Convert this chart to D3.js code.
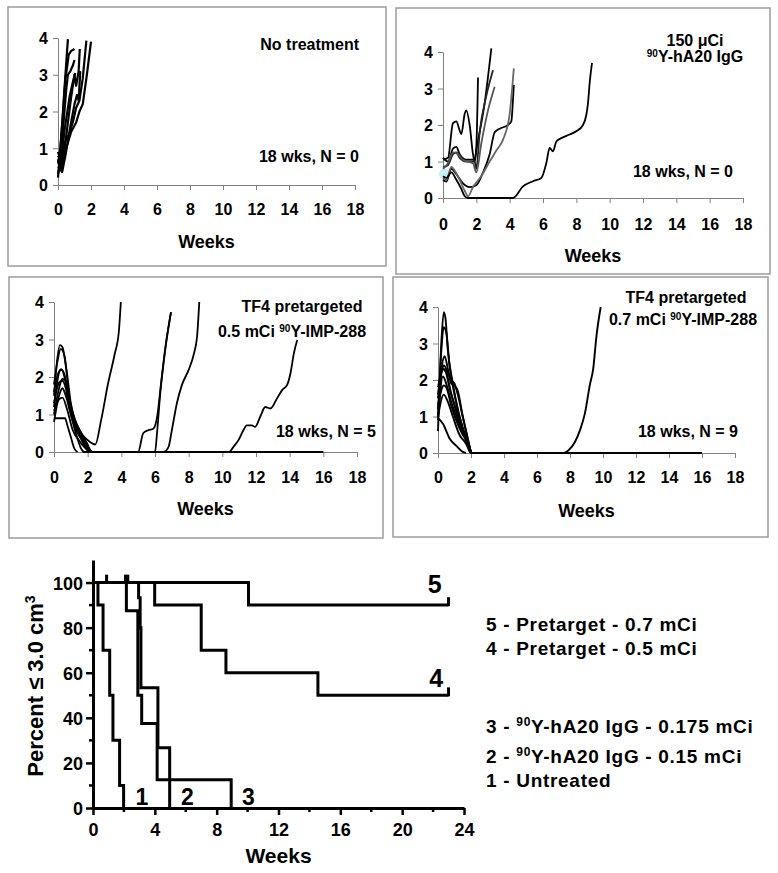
<!DOCTYPE html>
<html><head><meta charset="utf-8">
<script src="https://cdn.jsdelivr.net/npm/d3@7"></script>
<style>
body{margin:0;background:#fff}
svg{display:block}
text{font-family:"Liberation Sans",Arial,Helvetica,sans-serif;font-weight:bold;fill:#000}
</style>
</head><body>
<svg id="c" width="778" height="873"></svg>
<script>
// ---------- DATA ----------
const weekTicks = [0,2,4,6,8,10,12,14,16,18];
const volTicks = [0,1,2,3,4];

// Panel 1: No treatment — tumour volume (cm3) vs weeks
const noTreatment = [
  [[0,0.2],[0.15,1.0],[0.3,2.0],[0.45,3.0],[0.6,3.97]],
  [[0,0.6],[0.12,0.9],[0.3,1.9],[0.45,2.9],[0.55,3.2],[0.65,3.55],[0.8,3.65],[1.0,3.7]],
  [[0,0.8],[0.15,0.7],[0.3,1.5],[0.5,2.6],[0.6,3.0],[0.75,3.1],[0.9,3.25],[1.0,3.4]],
  [[0,0.7],[0.2,0.45],[0.35,0.8],[0.6,1.7],[0.8,2.4],[1.0,3.0],[1.1,2.7],[1.25,3.1],[1.32,3.7]],
  [[0,0.5],[0.25,0.35],[0.45,0.8],[0.75,1.6],[1.0,2.2],[1.15,2.45],[1.25,2.3],[1.35,3.1]],
  [[0,0.9],[0.2,0.6],[0.45,1.2],[0.7,1.4],[0.95,1.8],[1.1,2.1],[1.3,2.3],[1.5,2.9],[1.72,3.93]],
  [[0,0.6],[0.25,0.45],[0.5,1.0],[0.8,1.45],[1.1,1.7],[1.3,2.0],[1.5,2.2],[1.75,3.0],[2.0,3.9]],
  [[0,0.3],[0.2,0.7],[0.4,1.5],[0.7,2.4],[0.9,2.8],[1.05,3.05]]
];

// Panel 2: 150 uCi 90Y-hA20 IgG
const hA20 = [
  [[0,1.05],[0.3,1.1],[0.6,2.05],[0.8,2.1],[1.0,1.85],[1.1,1.75],[1.3,2.3],[1.4,2.4],[1.6,2.0],[1.8,1.2],[1.9,1.0],[2.0,1.3],[2.5,2.6],[2.9,4.1]],
  [[0,1.1],[0.3,1.0],[0.6,1.35],[0.8,1.4],[1.0,1.2],[1.4,1.05],[1.9,1.05],[2.0,1.4],[2.1,3.3]],
  [[0,0.85],[0.3,0.9],[0.6,1.2],[0.8,1.25],[1.0,1.1],[1.4,1.0],[1.9,1.0],[2.0,0.8],[2.2,1.8],[2.6,2.8],[3.0,3.5]],
  [[0,0.8],[0.3,0.95],[0.6,1.25],[0.9,1.2],[1.2,1.05],[1.8,0.95],[2.0,0.7],[2.3,1.5],[2.7,2.4],[3.1,3.05]],
  [[0,0.5],[0.2,0.45],[0.5,0.8],[0.8,0.65],[1.2,0.4],[1.6,0.3],[2.0,0.35],[2.4,0.7],[2.8,1.2],[3.1,1.8],[3.4,1.9],[3.9,2.0],[4.1,2.1],[4.2,2.7],[4.25,3.1]],
  [[0,0.55],[0.2,0.5],[0.5,0.85],[0.7,0.75],[1.0,0.5],[1.3,0.2],[1.5,0.05],[1.8,0.3],[2.3,0.6],[2.8,1.0],[3.2,1.3],[3.6,1.6],[4.0,2.3],[4.15,3.0],[4.25,3.55]],
  [[0,0.6],[0.2,0.55],[0.5,0.7],[0.8,0.5],[1.1,0.25],[1.3,0.05],[1.5,0],[4.2,0],[4.8,0.32],[5.4,0.46],[5.9,0.55],[6.2,0.96],[6.4,1.37],[6.6,1.28],[6.8,1.55],[7.1,1.64],[7.6,1.74],[8.0,1.83],[8.4,2.0],[8.6,2.28],[8.7,2.6],[8.8,3.15],[8.94,3.7]]
];
const hA20Stroke = ['#000','#000','#222','#555','#000','#666','#000'];

// Panel 3: TF4 pretargeted 0.5 mCi 90Y-IMP-288
const pre05 = [
  [[0,1.5],[0.2,2.5],[0.35,2.85],[0.5,2.8],[0.7,2.3],[0.9,1.5],[1.2,0.9],[1.6,0.5],[2.0,0.2],[2.2,0],[16,0]],
  [[0,1.8],[0.2,2.4],[0.4,2.75],[0.6,2.6],[0.8,2.0],[1.0,1.3],[1.3,0.8],[1.7,0.45],[2.1,0.28],[2.45,0.2],[2.8,0.85],[3.2,1.8],[3.6,2.6],[3.85,3.2],[3.97,4.0]],
  [[0,1.2],[0.2,1.9],[0.4,2.2],[0.6,2.1],[0.8,1.6],[1.1,1.0],[1.5,0.6],[1.9,0.25],[2.1,0],[5.0,0],[5.3,0.5],[5.6,0.58],[5.9,0.62],[6.15,1.0],[6.35,1.8],[6.65,2.9],[6.95,3.73]],
  [[0,1.0],[0.3,1.7],[0.5,1.95],[0.7,1.9],[0.9,1.4],[1.2,0.8],[1.6,0.4],[2.0,0.1],[2.2,0],[6.0,0],[6.12,0.5],[6.3,1.5],[6.6,2.7],[6.95,3.73]],
  [[0,1.3],[0.3,1.85],[0.5,1.9],[0.7,1.7],[0.9,1.2],[1.2,0.7],[1.6,0.35],[1.9,0.1],[2.1,0],[6.5,0],[6.8,0.13],[7.0,0.58],[7.3,1.3],[7.6,1.79],[8.0,2.19],[8.3,2.6],[8.5,3.08],[8.63,4.0]],
  [[0,0.8],[0.3,1.5],[0.5,1.7],[0.7,1.5],[1.0,1.0],[1.3,0.5],[1.6,0.1],[1.8,0],[10.4,0],[10.65,0.13],[10.95,0.31],[11.25,0.58],[11.45,0.71],[11.75,0.71],[11.95,0.67],[12.25,0.94],[12.55,1.2],[12.85,1.16],[13.25,1.43],[13.55,1.65],[13.85,1.79],[14.05,2.1],[14.25,2.63],[14.45,2.99]],
  [[0,0.9],[0.65,0.9],[0.8,0.7],[1.0,0.4],[1.2,0.1],[1.4,0]],
  [[0,1.1],[0.3,1.4],[0.5,1.45],[0.8,1.1],[1.1,0.6],[1.5,0.3],[2.0,0.05],[2.3,0]],
  [[0,1.6],[0.25,2.1],[0.45,2.2],[0.65,1.95],[0.9,1.3],[1.2,0.8],[1.6,0.45],[2.0,0.15],[2.25,0]]
];

// Panel 4: TF4 pretargeted 0.7 mCi 90Y-IMP-288
const pre07 = [
  [[0,0.6],[0.2,3.0],[0.35,3.86],[0.45,3.7],[0.6,2.8],[0.9,1.9],[1.2,1.2],[1.5,0.7],[1.8,0.3],[2.0,0],[16,0]],
  [[0,1.0],[0.2,2.8],[0.35,3.45],[0.5,3.3],[0.7,2.4],[1.0,1.6],[1.3,1.0],[1.6,0.5],[1.9,0.15],[2.0,0]],
  [[0,1.5],[0.2,2.3],[0.4,2.65],[0.6,2.3],[0.8,1.9],[1.0,1.85],[1.2,1.7],[1.5,1.0],[1.8,0.4],[2.0,0]],
  [[0,1.8],[0.2,2.2],[0.35,2.4],[0.6,2.2],[0.8,2.0],[1.0,1.9],[1.2,1.6],[1.5,1.0],[1.9,0.2],[2.0,0]],
  [[0,1.2],[0.3,2.3],[0.5,2.2],[0.8,1.6],[1.1,1.2],[1.4,0.8],[1.7,0.4],[1.95,0.1],[2.05,0],[7.6,0],[7.9,0.07],[8.3,0.3],[8.6,0.62],[8.9,1.08],[9.2,1.86],[9.41,2.32],[9.6,3.19],[9.86,4.0]],
  [[0,0.9],[0.3,2.1],[0.5,1.9],[0.8,1.4],[1.2,0.9],[1.6,0.5],[1.9,0.2],[2.0,0]],
  [[0,1.3],[0.35,1.85],[0.5,1.8],[0.8,1.3],[1.1,0.9],[1.5,0.5],[1.8,0.3],[2.0,0]],
  [[0,1.0],[0.35,1.6],[0.6,1.4],[0.9,1.0],[1.3,0.5],[1.7,0.25],[1.95,0]],
  [[0,0.95],[0.3,0.8],[0.7,0.4],[1.1,0.2],[1.5,0.03],[1.7,0]],
  [[0,1.6],[0.3,2.3],[0.45,2.25],[0.7,1.8],[1.0,1.3],[1.4,0.7],[1.8,0.2],[2.0,0]]
];

// Kaplan–Meier: percent of animals with tumour <= 3.0 cm3
const kmWeekTicks = [0,4,8,12,16,20,24];
const kmWeekMinor = [2,6,10,14,18,22];
const kmPctTicks = [0,20,40,60,80,100];
const kmPctMinor = [10,30,50,70,90];
const km1Weeks = [0,0.32,0.65,1.08,1.29,1.72,1.98];
const km1Pct   = [100,90,70,50,30,10,0];
const km2Weeks = [0,2.95,3.05,3.1,4.2,4.96];
const km2Pct   = [100,93.3,80,53.3,26.7,0];
const km3Weeks = [0,2.16,2.9,3.15,4.15,8.94];
const km3Pct   = [100,87.5,50,37.5,12.5,0];
const km4Weeks = [0,3.99,7.0,8.6,14.55,23];
const km4Pct   = [100,90,70,60,50,50];
const km5Weeks = [0,10.06,23];
const km5Pct   = [100,90,90];
const censorWeeks = [0.88,2.1,2.25,23,23];
const censorPct   = [100,100,100,90,50];
const curveLabels = ['5','4','1','2','3'];
const legendLines = [
  ['5 - Pretarget - 0.7 mCi'],
  ['4 - Pretarget - 0.5 mCi'],
  ['3 - ','90','Y-hA20 IgG - 0.175 mCi'],
  ['2 - ','90','Y-hA20 IgG - 0.15 mCi'],
  ['1 - Untreated']
];

// ---------- DRAW ----------
const svg = d3.select('#c');

function styleAxis(a, fs){
  a.select('.domain').attr('stroke','#808080').attr('stroke-width',1);
  a.selectAll('.tick line').attr('stroke','#808080');
  a.selectAll('text').attr('fill','#000').style('font-size',fs+'px')
   .style('font-family','"Liberation Sans",Arial,sans-serif').style('font-weight','bold');
}

function drawPanel(cfg, curves, strokes){
  const g = svg.append('g');
  g.append('rect').attr('x',cfg.box[0]).attr('y',cfg.box[1]).attr('width',cfg.box[2]).attr('height',cfg.box[3])
   .attr('fill','#fff').attr('stroke','#9c9c9c').attr('stroke-width',1.5);
  const x = d3.scaleLinear().domain([0,18]).range([cfg.x0,cfg.x1]);
  const y = d3.scaleLinear().domain([0,4]).range([cfg.y0,cfg.y1]);
  const xa = g.append('g').attr('transform',`translate(0,${cfg.y0})`)
    .call(d3.axisBottom(x).tickValues(weekTicks).tickSize(5).tickSizeOuter(0).tickFormat(d3.format('d')));
  styleAxis(xa,16);
  xa.selectAll('text').attr('y',cfg.xLab).attr('dy',0);
  const ya = g.append('g').attr('transform',`translate(${cfg.x0},0)`)
    .call(d3.axisLeft(y).tickValues(volTicks).tickSize(5).tickSizeOuter(0).tickFormat(d3.format('d')));
  styleAxis(ya,16);
  ya.selectAll('text').attr('x',-10).attr('dy','0.36em');
  g.append('text').attr('x',(cfg.x0+cfg.x1)/2).attr('y',cfg.weeksY).attr('text-anchor','middle')
   .style('font-size','18px').text('Weeks');
  if (cfg.blob) {
    g.append('circle').attr('cx',x(cfg.blob[0])).attr('cy',y(cfg.blob[1])).attr('r',5.5).attr('fill','#c4f1f8');
  }
  const line = d3.line().x(d=>x(d[0])).y(d=>y(d[1])).curve(cfg.curve);
  g.selectAll('path.c').data(curves).join('path').attr('class','c')
   .attr('d',line).attr('fill','none')
   .attr('stroke',(d,i)=>strokes ? strokes[i] : '#000')
   .attr('stroke-width',cfg.sw).attr('stroke-linejoin','round');
  cfg.texts.forEach(t=>{
    const tx = g.append('text').attr('x',t.x).attr('y',t.y).attr('text-anchor',t.anchor).style('font-size','16px');
    t.parts.forEach(p=>{
      if (p.sup) tx.append('tspan').attr('baseline-shift','super').style('font-size','10px').text(p.s);
      else tx.append('tspan').text(p.s);
    });
  });
  return {x,y};
}

drawPanel({box:[8,7,378,259], x0:58, x1:355, y0:185, y1:38, xLab:30, weeksY:248, sw:2.2, curve:d3.curveLinear,
  texts:[{x:359,y:50,anchor:'end',parts:[{s:'No treatment'}]},
         {x:359,y:162,anchor:'end',parts:[{s:'18 wks, N = 0'}]}]}, noTreatment);

drawPanel({box:[396,8,374,266], x0:443, x1:743, y0:198, y1:52, xLab:32, weeksY:262, sw:1.8, curve:d3.curveMonotoneX, blob:[0.08,0.65],
  texts:[{x:695,y:46,anchor:'middle',parts:[{s:'150 μCi'}]},
         {x:695,y:62,anchor:'middle',parts:[{s:'90',sup:true},{s:'Y-hA20 IgG'}]},
         {x:733,y:177,anchor:'end',parts:[{s:'18 wks, N = 0'}]}]}, hA20, hA20Stroke);

drawPanel({box:[9,277,374,261], x0:54, x1:357, y0:452, y1:302, xLab:31, weeksY:515, sw:1.8, curve:d3.curveMonotoneX,
  texts:[{x:302,y:312,anchor:'middle',parts:[{s:'TF4 pretargeted'}]},
         {x:292,y:337,anchor:'middle',parts:[{s:'0.5 mCi '},{s:'90',sup:true},{s:'Y-IMP-288'}]},
         {x:376,y:437,anchor:'end',parts:[{s:'18 wks, N = 5'}]}]}, pre05);

drawPanel({box:[393,277,375,260], x0:438, x1:735, y0:453, y1:307, xLab:30, weeksY:517, sw:1.9, curve:d3.curveMonotoneX,
  texts:[{x:686,y:303,anchor:'middle',parts:[{s:'TF4 pretargeted'}]},
         {x:683,y:325,anchor:'middle',parts:[{s:'0.7 mCi '},{s:'90',sup:true},{s:'Y-IMP-288'}]},
         {x:738,y:437,anchor:'end',parts:[{s:'18 wks, N = 9'}]}]}, pre07);

// ---------- Kaplan–Meier ----------
const kx = d3.scaleLinear().domain([0,24]).range([93,464]);
const ky = d3.scaleLinear().domain([0,110]).range([808,560]);
const kg = svg.append('g');

const kxa = kg.append('g').attr('transform','translate(0,808)')
  .call(d3.axisBottom(kx).tickValues(kmWeekTicks).tickSize(7).tickSizeOuter(0));
kxa.append('g').selectAll('line').data(kmWeekMinor).join('line')
  .attr('x1',d=>kx(d)).attr('x2',d=>kx(d)).attr('y1',0).attr('y2',4);
const kya = kg.append('g').attr('transform','translate(93,0)')
  .call(d3.axisLeft(ky).tickValues(kmPctTicks).tickSize(7).tickSizeOuter(0));
kya.append('g').selectAll('line').data(kmPctMinor).join('line')
  .attr('y1',d=>ky(d)).attr('y2',d=>ky(d)).attr('x1',0).attr('x2',-4);
[kxa,kya].forEach(a=>{
  a.select('.domain').attr('stroke','#000').attr('stroke-width',3);
  a.selectAll('line').attr('stroke','#000').attr('stroke-width',2.5);
  a.selectAll('text').attr('fill','#000').style('font-size','18px')
   .style('font-family','"Liberation Sans",Arial,sans-serif').style('font-weight','bold');
});
kxa.selectAll('.tick text').attr('y',28).attr('dy',0);
kya.selectAll('.tick text').attr('x',-10).attr('dy','0.36em');
// extend y axis a bit above 100 (domain top) already via scale
kg.append('text').attr('x',(93+464)/2).attr('y',863).attr('text-anchor','middle').style('font-size','21px').text('Weeks');
const yl = kg.append('text').attr('transform','translate(43,686) rotate(-90)').attr('text-anchor','middle').style('font-size','22px');
yl.append('tspan').text('Percent ≤ 3.0 cm');
yl.append('tspan').attr('baseline-shift','super').style('font-size','14px').text('3');

const kmSeries = [[km5Weeks,km5Pct],[km4Weeks,km4Pct],[km1Weeks,km1Pct],[km2Weeks,km2Pct],[km3Weeks,km3Pct]];
const stepLine = d3.line().x(d=>kx(d[0])).y(d=>ky(d[1])).curve(d3.curveStepAfter);
kg.selectAll('path.km').data(kmSeries.map(s=>s[0].map((w,i)=>[w,s[1][i]]))).join('path')
  .attr('class','km').attr('d',stepLine).attr('fill','none').attr('stroke','#000')
  .attr('stroke-width',3).attr('stroke-linejoin','miter');
kg.selectAll('line.cens').data(censorWeeks.map((w,i)=>[w,censorPct[i]])).join('line')
  .attr('class','cens').attr('x1',d=>kx(d[0])).attr('x2',d=>kx(d[0]))
  .attr('y1',d=>ky(d[1])+1).attr('y2',d=>ky(d[1]+3.5)).attr('stroke','#000').attr('stroke-width',3);

// curve number labels (placed in data coordinates)
const labelPos = [[22.1,95.4,25],[22.2,53.7,25],[3.17,1.3,23],[6.1,1.3,23],[10.05,1.3,23]];
curveLabels.forEach((t,i)=>{
  kg.append('text').attr('x',kx(labelPos[i][0])).attr('y',ky(labelPos[i][1])).attr('text-anchor','middle')
    .style('font-size',labelPos[i][2]+'px').text(t);
});

// legend
const legY = [631,655,733,763,787];
legendLines.forEach((parts,i)=>{
  const t = kg.append('text').attr('x',486).attr('y',legY[i]).style('font-size','19px').style('letter-spacing','0.7px');
  if (parts.length===1) t.text(parts[0]);
  else {
    t.append('tspan').text(parts[0]);
    t.append('tspan').attr('baseline-shift','super').style('font-size','12px').text(parts[1]);
    t.append('tspan').text(parts[2]);
  }
});
</script>
</body></html>
